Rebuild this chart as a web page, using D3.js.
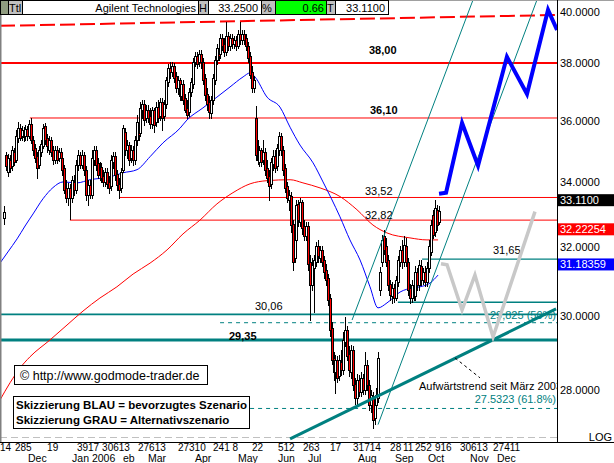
<!DOCTYPE html>
<html><head><meta charset="utf-8">
<script src="https://cdn.jsdelivr.net/npm/d3@7"></script>
<style>
body{margin:0;background:#fff;}
svg{display:block;font-family:"Liberation Sans",Arial,sans-serif;}
</style></head><body>
<svg id="c" width="614" height="463"></svg>
<script>
// ---- DATA ----
// daily candles [open, high, low, close], index 0 = first visible trading day
const ohlc = [
[32.88,33.26,32.70,33.08],[34.88,34.98,34.40,34.53],[34.34,34.91,34.21,34.78],[34.72,34.88,34.34,34.46],[34.53,35.17,34.40,35.04],
[34.98,35.10,34.56,34.66],[34.72,35.70,34.66,35.50],[35.43,35.97,35.30,35.77],[35.77,35.90,35.37,35.43],[35.50,35.83,35.37,35.70],
[35.70,35.80,35.33,35.47],[35.50,35.86,35.37,35.73],[35.73,35.83,35.37,35.50],[35.50,36.03,35.43,35.90],[35.90,36.10,35.27,35.37],
[35.37,35.50,34.88,35.04],[35.10,35.23,34.66,34.78],[34.85,34.98,34.14,34.46],[34.56,35.17,34.46,35.04],[34.98,35.37,34.85,35.23],
[35.17,35.90,35.10,35.77],[35.83,35.93,35.23,35.37],[35.43,35.57,34.98,35.17],[35.04,35.50,34.91,35.37],[35.37,35.47,34.85,34.98],
[35.04,35.17,34.59,34.72],[34.72,35.17,34.62,35.04],[35.04,35.17,34.62,34.72],[34.78,35.10,34.69,34.98],[34.98,35.10,34.66,34.78],
[34.78,34.88,34.24,34.40],[34.46,34.56,33.67,33.76],[33.82,34.08,33.39,33.51],[33.51,33.98,33.29,33.82],[33.82,33.95,32.85,33.51],
[33.51,34.21,33.39,34.08],[34.01,34.24,33.61,33.76],[33.76,34.72,33.67,34.56],[34.56,35.04,34.40,34.88],[34.88,34.98,34.46,34.56],
[34.56,35.04,34.46,34.88],[34.88,34.98,34.24,34.40],[34.40,34.53,33.45,33.61],[33.61,34.08,33.29,33.92],[33.92,34.08,33.51,33.61],
[33.61,35.04,33.51,34.78],[34.72,35.17,34.56,35.04],[35.04,35.17,34.40,34.56],[34.62,34.78,34.14,34.24],[34.24,34.66,34.08,34.50],
[34.50,34.62,34.01,34.14],[34.21,34.40,33.89,34.01],[34.01,34.46,33.89,34.34],[34.34,34.46,33.82,33.95],[34.01,34.21,33.67,33.82],
[33.89,34.88,33.76,34.72],[34.66,34.98,34.46,34.85],[34.85,34.98,34.08,34.24],[34.27,34.40,33.76,33.92],[33.95,34.14,33.51,33.76],
[33.82,34.46,33.70,34.34],[34.40,35.86,34.34,35.77],[35.63,35.77,34.88,35.04],[35.04,35.37,34.78,35.20],[35.20,35.30,34.56,34.72],
[34.78,35.20,34.66,35.04],[35.04,35.17,34.56,34.72],[34.72,35.50,34.59,35.37],[35.37,36.20,35.20,35.97],[35.97,36.10,35.37,35.53],
[35.60,36.64,35.50,36.44],[36.37,36.71,36.10,36.57],[36.57,36.71,35.86,36.03],[36.10,36.54,35.97,36.37],[36.37,36.54,35.97,36.10],
[36.17,36.44,35.77,35.90],[35.90,36.47,35.77,36.37],[36.37,36.44,35.63,35.86],[35.97,36.64,35.83,36.47],[36.47,36.71,35.97,36.10],
[36.17,36.78,36.03,36.64],[36.64,36.78,35.70,36.10],[36.17,36.71,36.03,36.57],[36.57,37.51,36.44,37.40],[37.33,37.96,37.19,37.82],
[37.82,38.04,37.47,37.68],[37.68,38.04,37.54,37.89],[37.89,38.00,37.33,37.47],[37.54,37.68,36.98,37.12],[37.12,37.54,36.92,37.40],
[37.40,37.47,36.71,36.85],[36.85,37.40,36.71,37.26],[37.26,37.40,36.57,36.71],[36.78,36.92,36.30,36.37],[36.44,36.71,36.10,36.20],
[36.30,37.12,36.17,36.98],[36.98,37.47,36.85,37.33],[37.26,38.18,37.12,38.04],[38.04,38.40,37.89,38.25],[38.25,38.40,37.82,37.96],
[38.04,38.47,37.89,38.33],[38.33,38.47,37.82,38.04],[38.04,38.18,37.26,37.40],[37.47,37.61,36.71,36.88],[36.92,37.12,36.37,36.57],
[36.64,36.85,36.10,36.30],[36.27,36.85,36.10,36.71],[36.71,37.61,36.57,37.47],[37.40,38.25,37.26,38.11],[38.11,38.69,37.96,38.54],
[38.54,38.83,38.11,38.25],[38.33,39.05,38.18,38.90],[38.90,39.05,38.47,38.62],[38.69,38.90,38.25,38.40],[38.40,39.49,38.29,38.98],
[38.98,39.12,38.47,38.62],[38.62,39.05,38.47,38.90],[38.90,39.05,38.54,38.69],[38.69,38.98,38.54,38.83],[38.83,38.98,38.47,38.62],
[38.62,39.19,38.54,39.05],[39.05,39.49,38.69,38.83],[38.83,39.19,38.69,39.05],[39.05,39.19,38.69,38.83],[38.90,39.05,38.47,38.62],
[38.62,38.76,38.04,38.18],[38.25,38.40,37.47,37.58],[37.68,37.89,36.98,37.12],[37.12,37.54,36.98,37.40],[36.10,36.51,34.72,34.88],
[35.04,35.37,34.59,34.72],[34.66,35.17,34.53,35.04],[35.04,35.10,34.53,34.66],[34.72,35.37,34.59,34.98],[34.98,35.10,34.24,34.40],
[34.46,34.72,34.01,34.14],[34.21,34.40,33.45,33.89],[33.95,34.78,33.82,34.66],[34.59,35.04,34.40,34.85],[34.85,35.04,34.34,34.46],
[34.53,35.23,34.40,35.10],[35.04,35.63,34.88,35.50],[35.50,35.60,34.88,35.04],[35.04,35.17,34.24,34.40],[34.46,34.59,33.70,33.82],
[33.89,34.01,33.39,33.51],[33.45,33.76,33.14,33.61],[33.58,33.70,32.46,32.67],[32.70,32.82,31.33,31.56],[31.68,32.34,31.56,32.22],
[32.22,33.45,32.07,33.29],[33.32,33.45,32.64,32.82],[32.76,33.51,32.64,33.39],[33.39,33.45,32.40,32.58],[32.64,32.82,32.22,32.34],
[32.34,32.76,32.22,32.64],[32.64,32.76,31.33,31.51],[31.56,31.77,29.90,30.89],[30.89,31.68,30.75,31.48],[31.39,31.77,30.12,31.62],
[31.56,32.16,31.45,32.04],[32.04,32.22,31.56,31.74],[31.68,32.04,31.56,31.92],[31.92,32.04,31.45,31.56],[31.62,31.74,31.10,31.27],
[31.33,31.51,30.89,31.04],[31.10,31.21,30.32,30.46],[30.52,30.64,29.46,29.62],[29.68,29.84,28.70,28.81],[28.86,29.02,28.28,28.49],
[28.49,28.94,27.93,28.81],[28.81,28.91,28.22,28.33],[28.38,28.94,28.28,28.81],[28.75,29.08,28.41,28.54],[28.54,29.57,28.44,29.35],
[29.30,29.98,29.19,29.62],[29.62,29.73,28.81,28.91],[28.97,29.19,28.38,28.54],[28.49,29.21,28.33,29.08],[29.08,29.19,28.01,28.14],
[28.17,28.33,27.65,27.80],[27.80,28.43,27.65,28.28],[28.28,28.41,27.85,27.96],[27.96,28.49,27.85,28.33],[28.33,28.43,27.91,28.01],
[28.01,29.02,27.91,28.67],[28.67,28.81,28.01,28.14],[28.14,28.28,27.49,27.62],[27.62,28.01,27.44,27.88],[27.85,27.96,27.04,27.24],
[27.29,27.75,27.14,27.62],[27.62,28.06,27.44,27.88],[27.80,29.02,27.70,28.86],[30.75,31.42,30.61,31.27],[31.56,32.37,31.45,32.22],
[32.34,32.52,31.80,31.92],[32.04,32.28,31.45,31.56],[31.62,31.77,30.75,30.89],[30.92,31.04,30.46,30.61],[30.58,30.98,30.38,30.81],
[30.81,30.92,30.41,30.52],[30.52,31.15,30.46,31.04],[30.98,31.74,30.86,31.62],[31.56,32.04,31.45,31.92],[31.92,32.22,31.39,31.56],
[31.56,32.34,31.45,32.07],[32.04,32.28,31.45,31.56],[31.56,31.68,30.61,30.75],[30.81,30.92,30.38,30.52],[30.52,31.04,30.41,30.89],
[30.89,31.04,30.46,30.58],[30.58,31.45,30.46,31.27],[31.27,31.39,30.75,30.89],[30.89,31.62,30.75,31.48],[31.45,31.62,30.89,31.04],
[31.04,31.39,30.92,31.27],[31.27,31.45,30.86,30.98],[30.98,31.56,30.86,31.39],[31.39,32.22,31.27,32.04],[31.86,32.82,31.77,32.67],
[32.98,33.14,32.28,32.37],[32.46,33.45,32.34,33.20],[33.14,33.29,32.52,32.67],[32.76,33.25,32.70,33.11]
];
// moving averages: [day index, price]
const maBlue = [[-2.05,31.53],[2,31.86],[6.7,32.25],[10.8,32.64],[14.9,33.01],[20,33.48],[25.1,33.83],[30.3,34.01],[37.4,33.98],[44.1,34.08],[54.4,34.17],[61,34.30],[68.2,34.40],[74.9,34.82],[81.5,35.27],[90.3,35.76],[93.8,36.03],[102,36.44],[109.2,36.81],[115.9,37.16],[122.6,37.51],[126.2,37.65],[128.7,37.51],[134.9,36.81],[141.5,36.47],[146.7,35.79],[151.8,35.20],[158.5,34.62],[163.6,34.01],[172.3,32.92],[177.4,32.22],[182.6,31.62],[187.7,30.84],[191.8,30.24],[196.4,30.38],[203.1,30.69],[209.7,30.81],[213.3,30.84],[218.5,30.95],[222.6,31.18]];
const maRed = [[-2.05,27.75],[3.1,28.20],[8.2,28.59],[13.3,28.89],[23.6,29.35],[32.3,29.76],[40.5,30.15],[49.2,30.52],[57.9,30.84],[66.2,31.21],[74.9,31.53],[83.6,31.92],[91.8,32.40],[100.5,32.82],[109.2,33.32],[117.4,33.67],[126.2,33.95],[134.9,34.05],[146.7,34.08],[153.3,33.98],[162.1,33.82],[172.3,33.55],[181,33.14],[189.2,32.67],[196.4,32.43],[208.2,32.28],[216.9,32.22],[222.6,32.22]];
// horizontal levels
const redLevels = [{v:38.00,from:-2.05,w:2},{v:36.10,from:13.3,w:1},{v:33.52,from:59,w:1},{v:32.82,from:33.8,w:1}];
const tealLevels = [{v:31.65,from:214.4,w:1.3},{v:30.40,from:202,w:1.3},{v:30.06,from:-2.05,w:1.7},{v:29.35,from:-2.05,w:3}];
const tealDashed = [{v:29.825,from:110.8},{v:27.5323,from:126.2}];
const topDashed = [[-2.05,39.34],[283.1,39.74]];
const channelA = [[178.5,29.90],[240.5,40.30]];
const channelB = [[191.8,27.12],[273.3,40.30]];
const trendUp = [[146.7,26.76],[283.1,30.21]];
const pointer = [[231.3,28.86],[244.1,28.33]];
const blueScenario = [[223.1,33.64],[226.7,33.67],[234.9,35.93],[243.1,34.53],[257.9,38.22],[268.2,36.92],[279,39.93],[283.6,39.19]];
const grayScenario = [[224.1,31.51],[227.2,31.48],[234.9,30.18],[241.5,31.18],[250.8,29.43],[272.3,33.08]];
const priceTicks = [40,38,36,34,32,30,28];
const lastValues = [{v:33.11,t:"33.1100",c:"#000000"},{v:32.22254,t:"32.22254",c:"#ff0000"},{v:31.18359,t:"31.18359",c:"#0000ff"}];
const dayTicks = [["14",-2.05],["285",5.6],["19",22.1],["3917",37.4],["30613",50.3],["27613",68.7],["27310",89.2],["241 8",107.2],["22",127.2],["512",140.5],["263",153.3],["17",167.2],["31714",179],["28",198],["11",204.6],["252",210.8],["916",221],["30613",233.8],["27411",250.8]];
const monthTicks = [["Dec",12.3],["Jan 2006",34.9],["eb",61],["Mar",73.8],["Apr",97.9],["May",120],["Jun",140.5],["Jul",155.9],["Aug",181.5],["Sep",200.5],["Oct",217.4],["Nov",239],["Dec",252.8]];
const header = {name:"Agilent Technologies",high:"33.2500",pct:"0.66",last:"33.1100"};

// ---- SCALES ----
const svg = d3.select("#c");
const PR = 557; // plot right edge
const PB = 441; // plot bottom
const x = d3.scaleLinear().domain([0,284]).range([4,4+284*1.95]);
const y = d3.scaleLog().domain([40,28]).range([8.0,390.4]);
const line = d3.line().x(d=>x(d[0])).y(d=>y(d[1]));

svg.append("rect").attr("width",614).attr("height",463).attr("fill","#fff");
svg.append("defs").append("clipPath").attr("id","plot").append("rect").attr("x",0).attr("y",0).attr("width",PR).attr("height",PB);
const g = svg.append("g").attr("clip-path","url(#plot)");

// bottom gray dash-dot line
g.append("line").attr("x1",0).attr("x2",PR).attr("y1",437.5).attr("y2",437.5).attr("stroke","#c0c0c0").attr("stroke-width",1).attr("stroke-dasharray","7,4");

// top red dashed line
g.append("path").attr("d",line(topDashed)).attr("fill","none").attr("stroke","#ff0000").attr("stroke-width",2).attr("stroke-dasharray","15,5");

// horizontal levels
redLevels.forEach(l=>{
  g.append("line").attr("x1",x(l.from)).attr("x2",PR).attr("y1",y(l.v)).attr("y2",y(l.v)).attr("stroke","#ff0000").attr("stroke-width",l.w);
});
tealLevels.forEach(l=>{
  g.append("line").attr("x1",x(l.from)).attr("x2",PR).attr("y1",y(l.v)).attr("y2",y(l.v)).attr("stroke","#008080").attr("stroke-width",l.w);
});
tealDashed.forEach(l=>{
  g.append("line").attr("x1",x(l.from)).attr("x2",PR).attr("y1",y(l.v)).attr("y2",y(l.v)).attr("stroke","#008080").attr("stroke-width",1).attr("stroke-dasharray","4,4");
});

// moving averages
g.append("path").attr("d",line.curve(d3.curveMonotoneX)(maRed)).attr("fill","none").attr("stroke","#ff0000").attr("stroke-width",1);
g.append("path").attr("d",line.curve(d3.curveMonotoneX)(maBlue)).attr("fill","none").attr("stroke","#0000ff").attr("stroke-width",1);
line.curve(d3.curveLinear);

// candles
const cg = g.append("g").attr("shape-rendering","crispEdges");
ohlc.forEach((d,i)=>{
  const [o,h,l,c] = d;
  const r = Math.round(x(i));
  cg.append("line").attr("x1",r+0.5).attr("x2",r+0.5).attr("y1",Math.round(y(h))).attr("y2",Math.round(y(l))+1).attr("stroke","#000");
  const top = Math.round(y(Math.max(o,c))), bot = Math.round(y(Math.min(o,c)));
  cg.append("rect").attr("x",r-0.5).attr("y",top+0.5).attr("width",2).attr("height",Math.max(1,bot-top))
    .attr("fill", c>=o ? "#ffffff" : "#ff0000").attr("stroke","#000").attr("stroke-width",1);
});

// channel lines and trend
[channelA,channelB].forEach(p=>g.append("path").attr("d",line(p)).attr("fill","none").attr("stroke","#008080").attr("stroke-width",1));
g.append("path").attr("d",line(trendUp)).attr("fill","none").attr("stroke","#008080").attr("stroke-width",3);
g.append("path").attr("d",line(pointer)).attr("fill","none").attr("stroke","#000").attr("stroke-width",1).attr("stroke-dasharray","3,3");

// text labels
function lbl(t,xx,yy,opt={}){
  return g.append("text").attr("x",xx).attr("y",yy).attr("font-size",opt.size||11).attr("fill",opt.fill||"#000")
   .attr("font-weight",opt.bold?"bold":"normal").attr("text-anchor",opt.anchor||"start").text(t);
}
lbl("38,00",369,y(38)-9,{bold:true});
lbl("36,10",370,y(36.10)-4,{bold:true});
lbl("33,52",365,y(33.52)-2);
lbl("32,82",365,y(32.82)-1);
lbl("31,65",493,y(31.65)-5);
lbl("30,06",255,y(30.06)-4);
lbl("29,35",229,y(29.35),{bold:true});
lbl("29,825 (50%)",556,y(29.825)-4,{fill:"#008080",anchor:"end"});
lbl("27.5323 (61.8%)",556,y(27.5323)-5,{fill:"#008080",anchor:"end"});
lbl("Aufwärtstrend seit März 2003",419,390);

// scenarios
g.append("path").attr("d",line(grayScenario)).attr("fill","none").attr("stroke","#c8c8c8").attr("stroke-width",3.5).attr("stroke-linejoin","miter");
g.append("path").attr("d",line(blueScenario)).attr("fill","none").attr("stroke","#0000ff").attr("stroke-width",4).attr("stroke-linejoin","miter");

// info boxes
g.append("rect").attr("x",14.5).attr("y",365.5).attr("width",193).attr("height",19).attr("fill","#fff").attr("stroke","#000");
lbl("\u00a9 http://www.godmode-trader.de",20,380,{size:12.5});
g.append("rect").attr("x",13.5).attr("y",396.5).attr("width",236).attr("height",32).attr("fill","#fff").attr("stroke","#000");
lbl("Skizzierung BLAU = bevorzugtes Szenario",16,409,{bold:true,size:11.5});
lbl("Skizzierung GRAU = Alternativszenario",16,424,{bold:true,size:11.5});

// frame
svg.append("line").attr("x1",0).attr("x2",614).attr("y1",0.5).attr("y2",0.5).attr("stroke","#a0a0a0");
svg.append("line").attr("x1",0.5).attr("x2",0.5).attr("y1",0).attr("y2",443).attr("stroke","#808080").attr("stroke-width",2);
svg.append("line").attr("x1",PR+0.5).attr("x2",PR+0.5).attr("y1",0).attr("y2",443).attr("stroke","#000");
svg.append("line").attr("x1",0).attr("x2",614).attr("y1",442.5).attr("y2",442.5).attr("stroke","#000");

// right axis
priceTicks.forEach(v=>{
  svg.append("text").attr("x",560).attr("y",Math.max(y(v),11.5)+4).attr("font-size",11).text(v.toFixed(4));
});
lastValues.forEach(d=>{
  const yy=y(d.v)-16.5;
  svg.append("rect").attr("x",558).attr("y",yy).attr("width",56).attr("height",12).attr("fill",d.c);
  svg.append("text").attr("x",560).attr("y",yy+10).attr("font-size",11).attr("fill","#fff").text(d.t);
});
svg.append("text").attr("x",612).attr("y",441).attr("font-size",11).attr("text-anchor","end").text("LOG");

// x axis labels (two tight rows)
dayTicks.forEach(d=>svg.append("text").attr("x",x(d[1])).attr("y",450.6).attr("font-size",10).text(d[0]));
monthTicks.forEach(d=>svg.append("text").attr("x",x(d[1])).attr("y",461.6).attr("font-size",10.5).text(d[0]));

// header
const hg = svg.append("g").attr("font-size",11);
const hb = [
  {x:0,w:8,fill:"#909c80"},
  {x:8,w:14,fill:"#c0c0c0",t:"Ttl",tx:9,a:"start"},
  {x:22,w:176,fill:"#fff",t:header.name,tx:196,a:"end"},
  {x:198,w:10,fill:"#c0c0c0",t:"H",tx:199,a:"start"},
  {x:208,w:53,fill:"#fff",t:header.high,tx:258,a:"end"},
  {x:261,w:14,fill:"#c0c0c0",t:"%",tx:262,a:"start"},
  {x:275,w:51,fill:"#00ff00",t:header.pct,tx:324,a:"end"},
  {x:326,w:9,fill:"#c0c0c0",t:"T",tx:327,a:"start"},
  {x:335,w:53,fill:"#fff",t:header.last,tx:385,a:"end"}
];
hb.forEach(b=>{
  hg.append("rect").attr("x",b.x+0.5).attr("y",0.5).attr("width",b.w).attr("height",14).attr("fill",b.fill).attr("stroke","#000");
  if(b.t) hg.append("text").attr("x",b.tx).attr("y",12).attr("text-anchor",b.a).text(b.t);
});
</script>
</body></html>
